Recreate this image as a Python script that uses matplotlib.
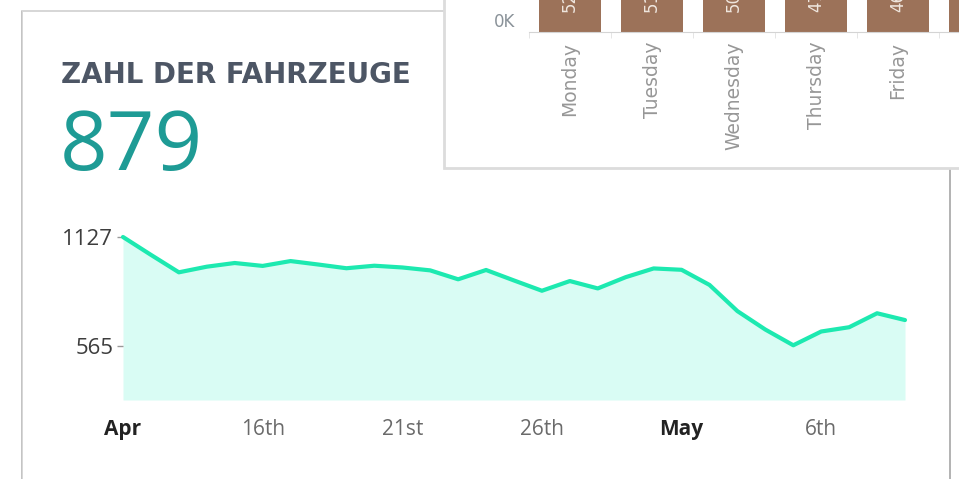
import matplotlib
matplotlib.use("Agg")
import matplotlib.pyplot as plt
from matplotlib.patches import Rectangle
from matplotlib.transforms import ScaledTranslation
import numpy as np

# ---------------- data ----------------
days = list(range(29))  # Apr 11 .. May 9
vehicles = [1127, 1035, 945, 974, 993, 978, 1003, 985, 966, 979,
            970, 955, 909, 957, 903, 850, 900, 862, 920, 965,
            958, 880, 745, 650, 569, 640, 662, 734, 699]
x_tick_pos = [0, 5, 10, 15, 20, 25]
x_tick_labels = ["Apr", "16th", "21st", "26th", "May", "6th"]
x_tick_bold = [True, False, False, False, True, False]
y_ticks = [565, 1127]
y_min = 287

weekdays = ["Monday", "Tuesday", "Wednesday", "Thursday", "Friday", "Saturday"]
weekday_values = [52, 51, 50, 47, 46, 44]  # thousands (mostly out of view)
weekday_labels = ["52K", "51K", "50K", "47K", "46K", ""]

title = "ZAHL DER FAHRZEUGE"
kpi = "879"

# ---------------- figure ----------------
W, H = 959, 479
fig = plt.figure(figsize=(W / 100, H / 100), dpi=100)
fig.patch.set_facecolor("white")

def fx(px):
    return px / W

def fy(py):
    return 1 - py / H

# left card
fig.add_artist(Rectangle((fx(22), fy(500)), fx(950) - fx(22), fy(11) - fy(500),
                         transform=fig.transFigure, facecolor="white",
                         edgecolor="#d6d6d6", linewidth=1.4, zorder=-2))
fig.add_artist(Rectangle((fx(949), fy(500)), fx(2), fy(11) - fy(500),
                         transform=fig.transFigure, facecolor="#b4b4b4",
                         edgecolor="none", zorder=-1))
fig.add_artist(Rectangle((fx(20.5), fy(500)), fx(1.6), fy(11) - fy(500),
                         transform=fig.transFigure, facecolor="#c4c4c4",
                         edgecolor="none", zorder=-1))

fig.text(fx(61), fy(83), title, fontsize=20, fontweight="bold",
         family=["DejaVu Sans"], color="#4d5665", ha="left", va="baseline")
fig.text(fx(60), fy(170), kpi, fontsize=60, family=["Open Sans", "DejaVu Sans"],
         color="#1e9b95", ha="left", va="baseline")

# main area chart
ax = fig.add_axes([fx(123), fy(400), fx(905) - fx(123), fy(237) - fy(400)])
ax.set_facecolor("none")
ax.fill_between(days, vehicles, y_min, color="#d9fcf4", linewidth=0, zorder=1)
ax.plot(days, vehicles, color="#1de9b0", linewidth=3.0, solid_joinstyle="round",
        solid_capstyle="round", clip_on=False, zorder=2)
ax.set_xlim(days[0], days[-1])
ax.set_ylim(y_min, max(vehicles))
for s in ax.spines.values():
    s.set_visible(False)
ax.set_yticks(y_ticks)
ax.set_yticklabels([str(v) for v in y_ticks], fontsize=16,
                   family=["Open Sans", "DejaVu Sans"], color="#3d3d3d")
ax.tick_params(axis="y", length=4, width=1, color="#999999", pad=3)
ax.set_xticks(x_tick_pos)
ax.set_xticklabels(x_tick_labels, fontsize=15, family=["Open Sans", "DejaVu Sans"])
for lab, b in zip(ax.get_xticklabels(), x_tick_bold):
    if b:
        lab.set_fontweight("bold")
        lab.set_color("#222222")
    else:
        lab.set_color("#6a6a6a")
ax.tick_params(axis="x", length=0, pad=14)

# top-right overlapping card
fig.add_artist(Rectangle((fx(444), fy(168)), fx(1000) - fx(444), fy(-10) - fy(168),
                         transform=fig.transFigure, facecolor="white",
                         edgecolor="#dcdcdc", linewidth=2.0, zorder=2))

slot = 82
bax_left = 529
bax_w = slot * len(weekdays)
bax_h = 140
bax = fig.add_axes([fx(bax_left), fy(32), bax_w / W, bax_h / H], zorder=3)
bax.set_facecolor("none")
xs = np.arange(len(weekdays))
bax.bar(xs, weekday_values, width=62 / 82, color="#9c7259", zorder=2)
bax.set_xlim(-0.5, len(weekdays) - 0.5)
bax.set_ylim(0, 60)
for k in ["top", "right", "left"]:
    bax.spines[k].set_visible(False)
bax.spines["bottom"].set_color("#d4d4d4")
bax.set_yticks([0])
bax.set_yticklabels(["0K"], fontsize=12, color="#8a9299")
bax.tick_params(axis="y", length=0, pad=10)
for lab in bax.get_yticklabels():
    lab.set_transform(lab.get_transform() + ScaledTranslation(0, 12 / 100, fig.dpi_scale_trans))
bax.set_xticks(xs)
bax.set_xticklabels(weekdays, rotation=90, fontsize=13.5, color="#979797")
bax.tick_params(axis="x", length=0, pad=7)
bax.set_xticks(np.arange(len(weekdays) + 1) - 0.5, minor=True)
bax.tick_params(axis="x", which="minor", length=4, color="#e0e0e0")
for i, t in enumerate(weekday_labels):
    bax.text(xs[i], 20 / bax_h, t, transform=bax.get_xaxis_transform(),
             rotation=90, ha="center", va="bottom", fontsize=12, color="#efe6de",
             clip_on=True, zorder=3)

fig.savefig("out.png", dpi=100, facecolor="white")
